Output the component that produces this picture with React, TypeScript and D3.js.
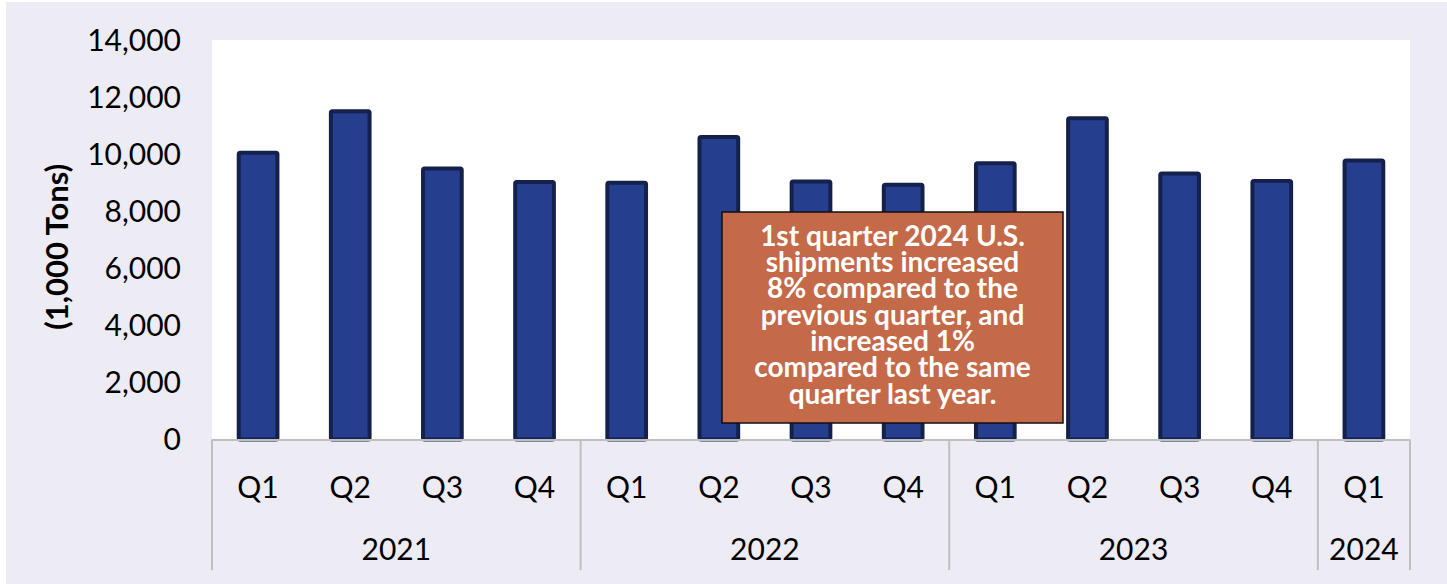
import React from "react";
import * as d3 from "d3";

const quarters = ["Q1","Q2","Q3","Q4","Q1","Q2","Q3","Q4","Q1","Q2","Q3","Q4","Q1"];
const years = ["2021","2021","2021","2021","2022","2022","2022","2022","2023","2023","2023","2023","2024"];
const shipments = [10050, 11500, 9500, 9020, 9000, 10600, 9040, 8930, 9680, 11260, 9320, 9060, 9780];
const yTicks = [0, 2000, 4000, 6000, 8000, 10000, 12000, 14000];
const yearGroups = ["2021", "2022", "2023", "2024"];
const noteLines = [
  "1st quarter 2024 U.S.",
  "shipments increased",
  "8% compared to the",
  "previous quarter, and",
  "increased 1%",
  "compared to the same",
  "quarter last year.",
];

const W = 1447, H = 584;
const left = 212, right = 1410, top = 40, bottom = 439.5;
const font = "Lato, 'Open Sans', sans-serif";

export default function App() {
  const idx = shipments.map((_, i) => String(i));
  const x = d3.scaleBand().domain(idx).range([left, right]).paddingInner(0.58).paddingOuter(0.29);
  const y = d3.scaleLinear().domain([0, 14000]).range([bottom, top]);
  const catW = (right - left) / quarters.length;

  const groups = yearGroups.map((yr) => {
    const is = years.map((v, i) => (v === yr ? i : -1)).filter((i) => i >= 0);
    const x0 = left + is[0] * catW;
    const x1 = left + (is[is.length - 1] + 1) * catW;
    return { yr, x0, x1 };
  });

  return (
    <svg width={W} height={H} style={{ position: "absolute", left: 0, top: 0 }} fontFamily={font}>
      <rect x={0} y={0} width={W} height={H} fill="#ffffff" />
      <rect x={6} y={2} width={W - 6} height={H - 2} fill="#EDECF4" />
      <rect x={left} y={top} width={right - left} height={bottom - top} fill="#ffffff" />

      {yTicks.map((t) => (
        <text key={t} x={181} y={y(t)} dy="0.35em" textAnchor="end" fontSize={30} fill="#000">
          {d3.format(",")(t)}
        </text>
      ))}
      <text
        transform={`translate(57,${(top + bottom) / 2 + 7}) rotate(-90)`}
        textAnchor="middle"
        dy="0.35em"
        fontSize={31}
        fontWeight="bold"
        fill="#000"
      >
        (1,000 Tons)
      </text>

      {shipments.map((v, i) => (
        <rect
          key={i}
          x={x(String(i))}
          y={y(v)}
          width={x.bandwidth()}
          height={bottom - y(v)}
          fill="#253F8E"
          stroke="#14214C"
          strokeWidth={4}
          rx={1.5}
        />
      ))}

      <line x1={left} x2={right} y1={bottom + 0.5} y2={bottom + 0.5} stroke="#BFBFBF" strokeWidth={2} />
      {groups.map((g, i) => (
        <line key={"s" + i} x1={g.x0} x2={g.x0} y1={bottom} y2={570} stroke="#BFBFBF" strokeWidth={2} />
      ))}
      <line x1={right} x2={right} y1={bottom} y2={570} stroke="#BFBFBF" strokeWidth={2} />

      {quarters.map((q, i) => (
        <text key={"q" + i} x={left + catW * (i + 0.5)} y={487} dy="0.35em" textAnchor="middle" fontSize={30} fill="#000">
          {q}
        </text>
      ))}
      {groups.map((g) => (
        <text key={g.yr} x={(g.x0 + g.x1) / 2} y={549} dy="0.35em" textAnchor="middle" fontSize={30} fill="#000">
          {g.yr}
        </text>
      ))}

      <rect x={722} y={212} width={341} height={211} fill="#C46A48" stroke="#111" strokeWidth={1.5} />
      {noteLines.map((l, i) => (
        <text
          key={"n" + i}
          x={892.5}
          y={236 + i * 26.3}
          dy="0.35em"
          textAnchor="middle"
          fontSize={28}
          fontWeight="bold"
          fill="#ffffff"
        >
          {l}
        </text>
      ))}
    </svg>
  );
}
